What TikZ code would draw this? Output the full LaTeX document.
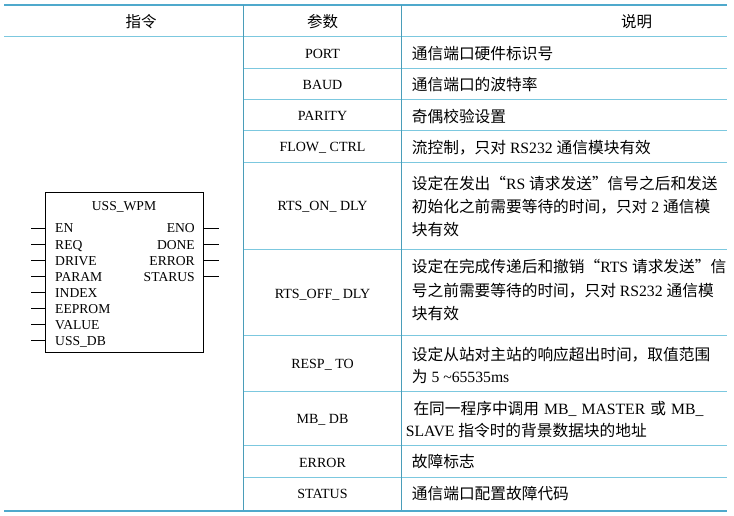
\documentclass[tikz,border=0pt]{standalone}
\usepackage{fontspec}
\setmainfont{Liberation Serif}
\newfontfamily\cjk{Noto Sans CJK SC}
\definecolor{tabline}{HTML}{7CC8DF}
\definecolor{tabrule}{HTML}{4FA9CC}
\definecolor{tabvert}{HTML}{4A9DB9}

\begin{document}
\begin{tikzpicture}[x=1pt, y=-1pt,
    head/.style={font=\fontsize{15.5}{18}\selectfont\cjk, inner sep=0pt},
    par/.style={font=\fontsize{14}{16}\selectfont, inner sep=0pt, text height=10pt, text depth=0pt},
    desc/.style={font=\fontsize{15.7}{18}\selectfont, inner sep=0pt, anchor=west, text height=12pt, text depth=0pt},
    pin/.style={font=\fontsize{13.6}{15}\selectfont, inner sep=0pt, text height=9pt, text depth=0pt}]
        \useasboundingbox (0,0) rectangle (734,516);
        \draw[tabrule, line width=1.6pt] (4,5) -- (727,5);
        \draw[tabline, line width=1pt] (4,36.7) -- (727,36.7);
        \foreach \y in {68.3,99.5,131,162.7,249.3,335.5,391,445.7,477.3}
            \draw[tabline, line width=1pt] (243.3,\y) -- (727,\y);
        \draw[tabrule, line width=1.6pt] (4,511) -- (727,511);
        \draw[tabvert, line width=0.9pt] (243.3,5) -- (243.3,510);
        \draw[tabvert, line width=0.9pt] (401.7,5) -- (401.7,510);
        \node[head] (h1) at (141,21.5) {指令};
        \node[head] (h2) at (322.5,21.5) {参数};
        \node[head] (h3) at (636.7,21.5) {说明};
        \node[draw, line width=0.8pt, minimum width=158pt, minimum height=160.5pt, inner sep=0pt] (wpm) at (124,272.3) {};
        \node[pin] (title) at (124,206.5) {USS\_WPM};
        \foreach \lbl [count=\i] in {EN,REQ,DRIVE,PARAM,INDEX,EEPROM,VALUE,USS\_DB} {
            \node[pin, anchor=west] (in\i) at (55,212.5+16*\i) {\lbl};
            \coordinate (a\i) at (31,212.5+16*\i);
            \draw[line width=0.7pt] (a\i) -- (wpm.west |- a\i);
        }
        \foreach \lbl [count=\i] in {ENO,DONE,ERROR,STARUS} {
            \node[pin, anchor=east] (out\i) at (195,212.5+16*\i) {\lbl};
            \coordinate (b\i) at (219,212.5+16*\i);
            \draw[line width=0.7pt] (wpm.east |- b\i) -- (b\i);
        }
        \foreach \y/\lbl [count=\i] in {53.3/PORT,84.5/BAUD,115.5/PARITY,147/FLOW\_ CTRL,206/RTS\_ON\_ DLY,293/RTS\_OFF\_ DLY,363.5/RESP\_ TO,418.5/MB\_ DB,462/ERROR,493.5/STATUS}
            \node[par] (p\i) at (322.5,\y) {\lbl};
        \node[desc] (d1) at (411.7,54) {{\cjk 通信端口硬件标识号}};
        \node[desc] (d2) at (411.7,85) {{\cjk 通信端口的波特率}};
        \node[desc] (d3) at (411.7,116.5) {{\cjk 奇偶校验设置}};
        \node[desc] (d4) at (411.7,147.5) {{\cjk 流控制，只对} RS232 {\cjk 通信模块有效}};
        \node[desc] (d5) at (411.7,183.3) {{\cjk 设定在发出“}RS {\cjk 请求发送”信号之后和发送}};
        \node[desc] (d6) at (411.7,206.5) {{\cjk 初始化之前需要等待的时间，只对} 2 {\cjk 通信模}};
        \node[desc] (d7) at (411.7,229.5) {{\cjk 块有效}};
        \node[desc] (d8) at (411.7,266.7) {{\cjk 设定在完成传递后和撤销“}RTS {\cjk 请求发送”信}};
        \node[desc] (d9) at (411.7,290.3) {{\cjk 号之前需要等待的时间，只对} RS232 {\cjk 通信模}};
        \node[desc] (d10) at (411.7,313.3) {{\cjk 块有效}};
        \node[desc] (d11) at (411.7,354) {{\cjk 设定从站对主站的响应超出时间，取值范围}};
        \node[desc] (d12) at (411.7,376.7) {{\cjk 为} 5 \textasciitilde65535ms};
        \node[desc] (d13) at (413.3,408.3) {\makebox[290pt][s]{{\cjk 在同一程序中调用} MB\_ MASTER {\cjk 或} MB\_}};
        \node[desc] (d14) at (405.7,430.7) {SLAVE {\cjk 指令时的背景数据块的地址}};
        \node[desc] (d15) at (411.7,461.7) {{\cjk 故障标志}};
        \node[desc] (d16) at (411.7,493.3) {{\cjk 通信端口配置故障代码}};
    \end{tikzpicture}
\end{document}
